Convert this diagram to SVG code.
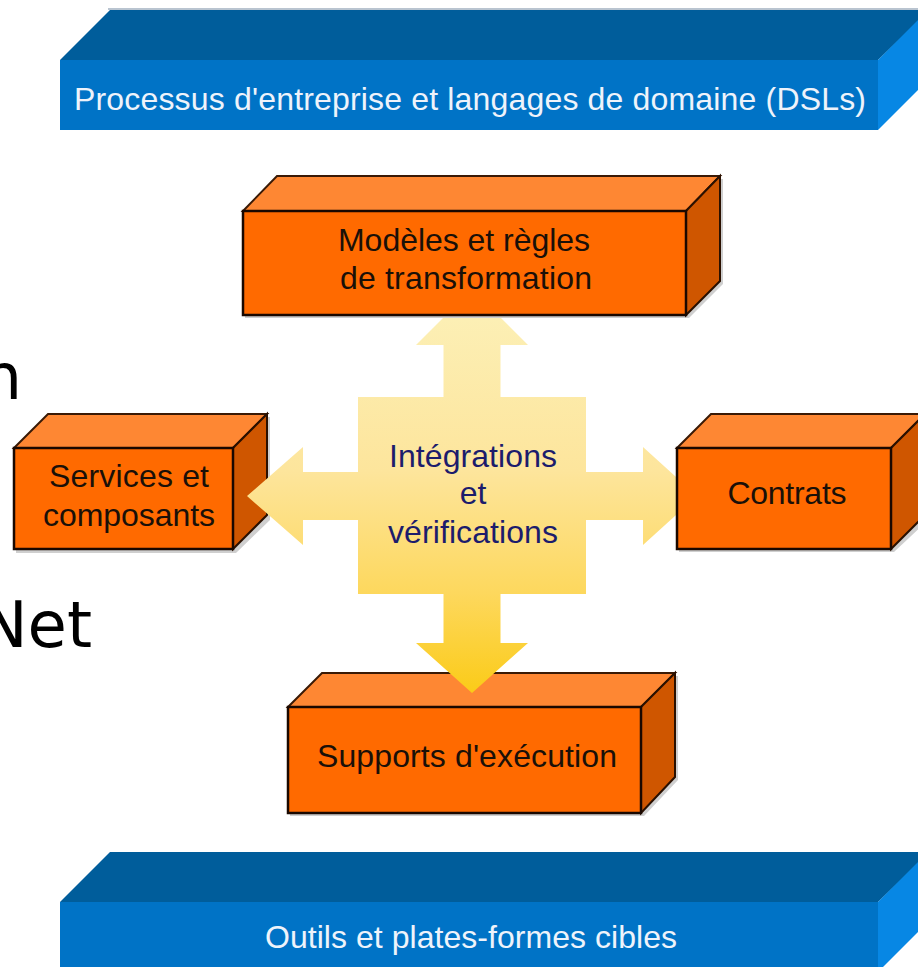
<svg xmlns="http://www.w3.org/2000/svg" width="918" height="967" viewBox="0 0 918 967">
<defs>
<linearGradient id="crossGrad" gradientUnits="userSpaceOnUse" x1="0" y1="289" x2="0" y2="693">
<stop offset="0" stop-color="#fcf1b9"/>
<stop offset="0.45" stop-color="#fde59c"/>
<stop offset="0.75" stop-color="#fdd85e"/>
<stop offset="1" stop-color="#fbcb18"/>
</linearGradient>
</defs>
<style>
.bar-top{fill:#005d9b}
.bar-front{fill:#0073c6}
.bar-side{fill:#0787e4}
.bar-text{font-family:"Liberation Sans",Arial,sans-serif;font-size:32px;fill:#eef3fb;text-anchor:middle}
.shadow{fill:#cfcfcf}
.box-top{fill:#fe8733;stroke:#3a1a06;stroke-width:2;stroke-linejoin:miter}
.box-front{fill:#ff6a00;stroke:#1a0800;stroke-width:2.5}
.box-side{fill:#cf5600;stroke:#2a1000;stroke-width:2;stroke-linejoin:miter}
.label{font-family:"Liberation Sans",Arial,sans-serif;font-size:32px;fill:#1a1008;text-anchor:middle}
.center-label{font-family:"Liberation Sans",Arial,sans-serif;font-size:32px;fill:#1c1c6c;text-anchor:middle}
.cross{fill:url(#crossGrad)}
.bg-text{font-family:"DejaVu Sans",sans-serif;font-size:64px;fill:#000000;text-anchor:end}
</style>
<rect x="0" y="0" width="918" height="967" fill="#ffffff"/>

<g id="background-text">
<text class="bg-text" x="22" y="399">n</text>
<text class="bg-text" x="92" y="647">Net</text>
</g>

<g id="bar-processus">
<line x1="108" y1="9" x2="918" y2="9" stroke="#b9c4d0" stroke-width="2"/>
<polygon class="bar-top" points="60,60 110,10 930,10 878,60"/>
<rect class="bar-front" x="60" y="60" width="818" height="70"/>
<polygon class="bar-side" points="878,60 928,10 928,80 878,130"/>
<text class="bar-text" x="470" y="110" textLength="792">Processus d'entreprise et langages de domaine (DSLs)</text>
</g>

<g id="bar-outils">
<polygon class="bar-top" points="60,902 110,852 930,852 878,902"/>
<rect class="bar-front" x="60" y="902" width="818" height="70"/>
<polygon class="bar-side" points="878,902 928,852 928,922 878,972"/>
<text class="bar-text" x="471" y="948" textLength="412">Outils et plates-formes cibles</text>
</g>

<g id="box-services">
<polygon class="shadow" points="16,451 50,417 270,417 270,520 236,553 16,553"/>
<polygon class="box-top" points="14,448 48,414 267,414 233,448"/>
<polygon class="box-side" points="233,448 267,414 267,515 233,549"/>
<rect class="box-front" x="14" y="448" width="219" height="101"/>
<text class="label" x="129" y="487" textLength="160">Services et</text>
<text class="label" x="129" y="526" textLength="172">composants</text>
</g>

<g id="box-supports">
<polygon class="shadow" points="290,710 324,676 678,676 678,780 644,816 290,816"/>
<polygon class="box-top" points="288,707 322,673 675,673 641,707"/>
<polygon class="box-side" points="641,707 675,673 675,777 641,813"/>
<rect class="box-front" x="288" y="707" width="353" height="106"/>
<text class="label" x="467" y="767" textLength="300">Supports d'exécution</text>
</g>

<g id="connectors">
<polygon class="cross" points="443.5,400 443.5,345 416,345 472,289 528,345 500.5,345 500.5,400"/>
<polygon class="cross" points="443.5,590 443.5,643 416,643 472,693 528,643 500.5,643 500.5,590"/>
<polygon class="cross" points="361,472 303,472 303,447 247,496 303,545 303,520 361,520"/>
<polygon class="cross" points="583,472 643,472 643,447 697,496 643,545 643,520 583,520"/>
</g>

<g id="node-integrations">
<rect class="cross" x="358" y="397" width="228" height="197"/>
<text class="center-label" x="473" y="467" textLength="168">Intégrations</text>
<text class="center-label" x="473" y="504">et</text>
<text class="center-label" x="473" y="543" textLength="170">vérifications</text>
</g>

<g id="box-modeles">
<polygon class="shadow" points="245,214 279,179 723,179 723,284 689,318 245,318"/>
<polygon class="box-top" points="243,211 277,176 720,176 686,211"/>
<polygon class="box-side" points="686,211 720,176 720,281 686,315"/>
<rect class="box-front" x="243" y="211" width="443" height="104"/>
<text class="label" x="464" y="251" textLength="252">Modèles et règles</text>
<text class="label" x="466" y="289" textLength="252">de transformation</text>
</g>

<g id="box-contrats">
<polygon class="shadow" points="679,451 713,417 928,417 928,520 894,552 679,552"/>
<polygon class="box-top" points="677,448 711,414 925,414 891,448"/>
<polygon class="box-side" points="891,448 925,414 925,515 891,549"/>
<rect class="box-front" x="677" y="448" width="214" height="101"/>
<text class="label" x="787" y="504" textLength="119">Contrats</text>
</g>
</svg>
